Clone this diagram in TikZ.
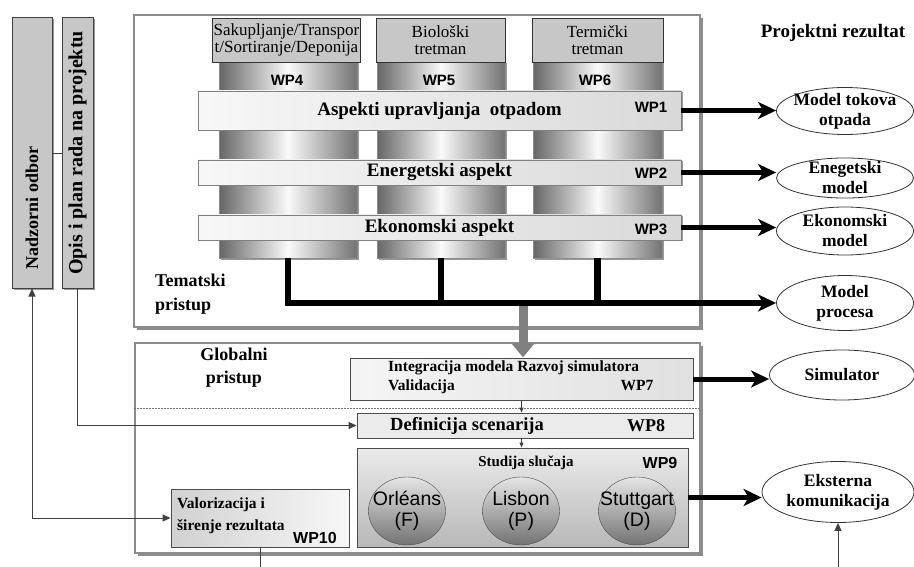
\documentclass[tikz,border=0pt]{standalone}
\usepackage{fontspec}
\setmainfont{Liberation Serif}
\setsansfont{Liberation Sans}
\usepackage{graphicx}
\usepackage{tikz}
\usetikzlibrary{arrows.meta,shapes.geometric,shadows}

\newcommand{\fsz}[2]{\fontsize{#1}{#2}\selectfont}

\begin{document}
\begin{tikzpicture}[x=1pt, y=-1pt,
	mainframe/.style={draw=black!45, fill=white, line width=1.2pt, inner sep=0pt, drop shadow={shadow xshift=3pt, shadow yshift=-3pt, fill=black!45, opacity=1}},
	sidebox/.style={draw=black!75, fill=black!22, line width=1pt, inner sep=0pt, minimum height=270pt, drop shadow={shadow xshift=1.5pt, shadow yshift=-1.5pt, fill=black!40, opacity=1}},
	colhead/.style={draw=black!80, fill=black!22, line width=0.8pt, inner sep=1pt, minimum height=44pt, align=center, font=\fsz{17}{17}},
	pillar/.style={draw=black!45, left color=black!60, right color=black!55, middle color=black!2, inner sep=0pt, minimum height=196pt, drop shadow={shadow xshift=1.5pt, shadow yshift=-1.5pt, fill=black!40, opacity=1}},
	wpbar/.style={draw=black!50, left color=black!3, right color=black!15, inner sep=0pt, minimum width=483pt, font=\bfseries\fsz{19}{19}, drop shadow={shadow xshift=1.5pt, shadow yshift=-1.5pt, fill=black!40, opacity=1}},
	wp/.style={font=\sffamily\bfseries\fsz{15}{15}, inner sep=0pt},
	wpbox/.style={draw=black!70, line width=0.9pt, inner sep=0pt},
	city/.style={ellipse, draw=black!70, top color=black!10, bottom color=black!55, inner xsep=-16pt, inner ysep=0pt, minimum width=77pt, minimum height=68pt, align=center, font=\sffamily\fsz{19.5}{21}},
	result/.style={ellipse, draw=black!80, line width=0.8pt, fill=white, inner xsep=-8pt, inner ysep=-2pt, minimum width=137pt, align=center, font=\bfseries\fsz{17.5}{20}},
	txt/.style={inner sep=0pt, font=\bfseries\fsz{18}{24}},
	arrowline/.style={line width=5pt, -{Stealth[length=18pt, width=17pt, inset=5pt]}},
	wire/.style={draw=black!75, line width=0.9pt},
	wiretip/.style={-{Triangle[length=8pt, width=7pt]}},
]
	\useasboundingbox (0,0) rectangle (914,567);

	% frames
	\node [mainframe, minimum width=566pt, minimum height=312pt] (tema) at (417,171) {};
	\node [mainframe, minimum width=565pt, minimum height=210pt] (glob) at (417.5,448) {};

	\node [sidebox, minimum width=40pt, font=\bfseries\fsz{18}{18}] (nadzor) at (32,153) {\rotatebox{90}{Nadzorni odbor\hspace*{110pt}}};
	\node [sidebox, minimum width=31pt, font=\bfseries\fsz{20}{20}] (opis) at (77.5,153) {\rotatebox{90}{Opis i plan rada na projektu}};

	% pillars
	\node [pillar, minimum width=138pt] (p4) at (288,160) {};
	\node [pillar, minimum width=128pt] (p5) at (441,160) {};
	\node [pillar, minimum width=129pt] (p6) at (597.5,160) {};

	\node [colhead, minimum width=143pt] (h4) at (286.5,40) {Sakupljanje/Transpor\\t/Sortiranje/Deponija};
	\node [colhead, minimum width=129pt] (h5) at (440.5,40) {Biološki\\tretman};
	\node [colhead, minimum width=131pt] (h6) at (597.5,40) {Termički\\tretman};

	\node [wp] (wp4) at (287,80) {WP4};
	\node [wp] (wp5) at (439,80) {WP5};
	\node [wp] (wp6) at (595,80) {WP6};

	% bars
	\node [wpbar, minimum height=39pt] (b1) at (439.5,110.5) {Aspekti upravljanja\ \ otpadom};
	\node [wpbar, minimum height=25pt] (b2) at (439.5,172.5) {Energetski aspekt};
	\node [wpbar, minimum height=25pt] (b3) at (439.5,227.5) {Ekonomski aspekt};

	\node [wp] (wp1) at (651,107) {WP1};
	\node [wp] (wp2) at (651,173) {WP2};
	\node [wp] (wp3) at (651,229) {WP3};

	\node [txt, anchor=west, align=left] (tem) at (155,294) {Tematski\\pristup};
	\node [txt, align=center, font=\bfseries\fsz{18}{23}] (globl) at (234,368) {Globalni\\pristup};
	\node [txt, font=\bfseries\fsz{19}{19}] (projr) at (833,33) {Projektni rezultat};

	% results
	\node [result, minimum height=47pt] (mtok) at (845,111) {Model tokova\\otpada};
	\node [result, minimum height=40pt] (eneg) at (845,178) {Enegetski\\model};
	\node [result, minimum height=48pt] (ekon) at (845,231) {Ekonomski\\model};
	\node [result, minimum height=55pt] (mproc) at (845,303) {Model\\procesa};
	\node [result, minimum height=50pt, minimum width=145pt] (sim) at (842,375) {Simulator};
	\node [result, minimum height=61pt, minimum width=152pt] (ekst) at (838,492) {Eksterna\\komunikacija};

	% global part
	\coordinate (dl) at (0,408);
	\coordinate (bot) at (0,567);
	\draw [draw=black!55, dash pattern=on 2pt off 1pt, line width=0.8pt] (glob.west |- dl) -- (glob.east |- dl);

	\draw [line width=9pt, draw=black!50, -{Triangle[length=14pt, width=22pt]}] (p5.south |- mproc.west) ++(82,0) coordinate (split) (split) -- (split |- glob.north) -- ++(0,15);

	\draw [arrowline, line width=6.5pt] (p4.south) |- (mproc.west);
	\draw [line width=6.5pt] (p5.south) -- (p5.south |- mproc.west);
	\draw [line width=6.5pt] (p6.south) -- (p6.south |- mproc.west);

	\node [wpbox, left color=black!4, right color=black!12, minimum width=343pt, minimum height=42pt] (wp7) at (521.5,379) {};
	\node [inner sep=0pt, anchor=west, align=left, font=\bfseries\fsz{15.5}{19}] (t7) at (388,377) {Integracija modela Razvoj simulatora\\Validacija};
	\node [inner sep=0pt, font=\bfseries\fsz{15.5}{15.5}] (l7) at (637,386) {WP7};

	\node [wpbox, fill=black!8, minimum width=336pt, minimum height=25pt] (wp8) at (525,425.5) {};
	\node [inner sep=0pt, font=\bfseries\fsz{18.5}{18.5}] (t8) at (467,425.5) {Definicija scenarija};
	\node [inner sep=0pt, font=\bfseries\fsz{18}{18}] (l8) at (646,425.5) {WP8};

	\node [wpbox, top color=black!8, bottom color=black!28, minimum width=331pt, minimum height=99pt] (wp9) at (522.5,497.5) {};
	\node [inner sep=0pt, font=\bfseries\fsz{15}{15}] (t9) at (526,463) {Studija slučaja};
	\node [wp, font=\sffamily\bfseries\fsz{16}{16}] (l9) at (660,463) {WP9};

	\node [city] (orl) at (407,511) {Orléans\\(F)};
	\node [city] (lis) at (521,511) {Lisbon\\(P)};
	\node [city] (stu) at (637,511) {Stuttgart\\(D)};

	\node [wpbox, left color=black!18, right color=black!3, minimum width=178pt, minimum height=58pt] (wp10) at (260,518) {};
	\node [inner sep=0pt, anchor=west, align=left, font=\bfseries\fsz{15.5}{22}] (t10) at (177,516) {Valorizacija i\\širenje rezultata};
	\node [wp, font=\sffamily\bfseries\fsz{16}{16}] (l10) at (315,538) {WP10};

	% outputs
	\draw [arrowline] (b1.east) -- (b1.east -| mtok.west);
	\draw [arrowline] (b2.east) -- (b2.east -| eneg.west);
	\draw [arrowline] (b3.east) -- (b3.east -| ekon.west);
	\draw [arrowline] (wp7.east) -- (wp7.east -| sim.west);
	\draw [arrowline] (wp9.east) -- (wp9.east -| ekst.west);

	\draw [wire, -{Triangle[length=5pt, width=4pt]}] (wp7.south) -- (wp7.south |- wp8.north);
	\draw [wire, -{Triangle[length=5pt, width=4pt]}] (wp7.south |- wp8.south) -- (wp7.south |- wp9.north);

	% side connectors
	\draw [wire] (nadzor) -- (opis);
	\draw [wire, {Triangle[length=8pt, width=7pt]}-{Triangle[length=8pt, width=7pt]}] (nadzor.south) |- (wp10.west);
	\draw [wire, wiretip] (opis.south) |- (wp8.west);
	\draw [wire] (wp10.south) -- (wp10.south |- bot);
	\draw [wire, wiretip] (ekst.south |- bot) -- (ekst.south);
\end{tikzpicture}
\end{document}
